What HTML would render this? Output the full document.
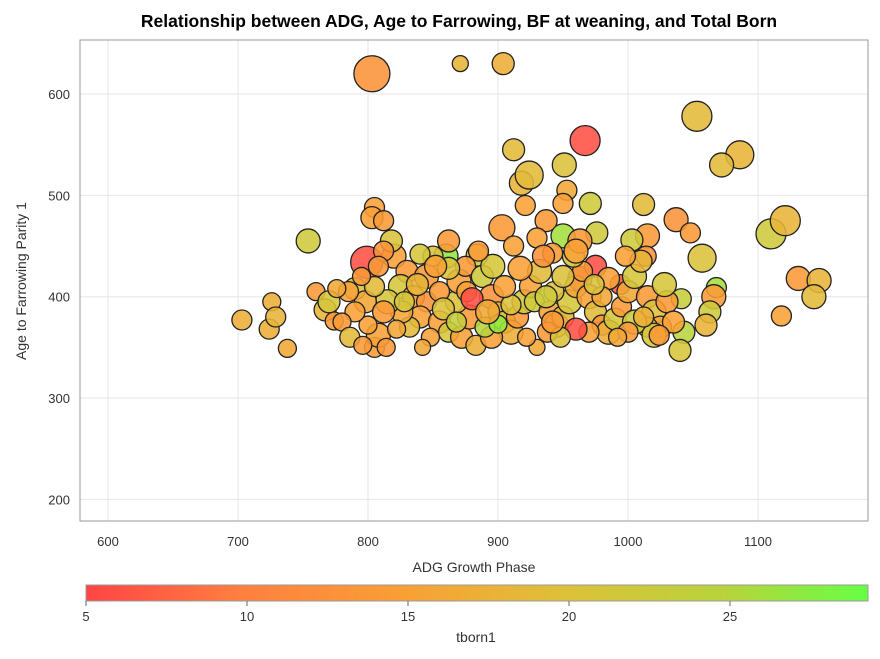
<!DOCTYPE html>
<html><head><meta charset="utf-8">
<style>
html,body{margin:0;padding:0;background:#fff;}
body{width:880px;height:654px;overflow:hidden;font-family:"Liberation Sans",Arial,sans-serif;}
</style></head>
<body>
<svg id="chart" width="880" height="654" xmlns="http://www.w3.org/2000/svg">
<defs>
<linearGradient id="cbar" x1="0" x2="1" y1="0" y2="0">
<stop offset="0" stop-color="#ff4444"/>
<stop offset="0.2" stop-color="#ff8040"/>
<stop offset="0.41" stop-color="#f9a035"/>
<stop offset="0.62" stop-color="#dcc23a"/>
<stop offset="0.82" stop-color="#b8d43c"/>
<stop offset="1" stop-color="#66ff44"/>
</linearGradient>
</defs>
<text x="459" y="27" text-anchor="middle" font-size="17.5" font-weight="bold" fill="#000">Relationship between ADG, Age to Farrowing, BF at weaning, and Total Born</text>
<g id="grid"></g>
<g id="bubbles"></g>
<rect x="80" y="40" width="788" height="481" fill="none" stroke="#999" stroke-width="1"/>
<g id="axes"></g>
<text x="474" y="572" text-anchor="middle" font-size="14" fill="#333">ADG Growth Phase</text>
<text transform="translate(26,281) rotate(-90)" text-anchor="middle" font-size="14" fill="#333">Age to Farrowing Parity 1</text>
<rect x="86" y="585" width="782" height="16" fill="url(#cbar)" stroke="#999" stroke-width="1"/>
<g id="cbticks"></g>
<text x="476" y="642" text-anchor="middle" font-size="14" fill="#333">tborn1</text>
</svg>
<script>
const xTicks=[600,700,800,900,1000,1100];
const yTicks=[200,300,400,500,600];
const cbTicks=[5,10,15,20,25];
const adg=[803,871,904,967,1053,1086,1072,912,951,953,918,924,971,950,805,1012,803,812,937,1037,921,1110,1121,754,799,976,1057,1048,1015,1003,1014,950,903,930,942,860,884,963,975,994,1131,1147,1143,1118,1068,1066,1063,1041,1043,1040,1060,760,703,724,726,729,738,767,774,790,805,808,814,800,
820,830,818,812,808,825,835,845,850,845,840,832,826,815,798,790,780,786,796,855,862,872,883,878,868,870,875,888,895,900,905,910,895,890,900,915,920,925,932,935,928,940,945,938,950,955,960,965,958,970,975,980,985,990,995,1000,1005,1010,998,1015,1020,1025,1015,1030,1028,1005,1000,992,970,960,948,930,922,910,905,896,885,876,862,855,858,848,842,838,828,812,822,805,795,785,770,776,880,917,943,963,985,1020,1035,892,937,980,960,950,912,862,840,852,868,942,974,1024,1012];
const age=[620,630,630,554,578,540,530,545,530,505,512,520,492,492,488,491,478,475,475,476,490,462,475,455,434,463,438,463,460,456,440,460,468,458,443,440,441,418,430,412,418,416,400,381,409,400,385,398,365,347,372,405,377,368,395,380,349,387,376,408,350,362,350,372,
440,425,455,445,430,410,400,420,440,395,380,370,385,395,395,385,375,360,352,375,365,360,352,380,395,415,430,420,400,385,375,365,360,370,373,380,395,410,425,440,395,385,372,365,380,395,410,425,440,400,385,372,365,378,390,405,420,435,440,400,385,370,370,395,412,375,365,360,365,368,360,350,360,392,410,430,445,405,428,405,388,360,350,412,395,385,368,410,420,405,395,408,398,428,405,455,418,362,375,385,400,400,445,420,450,455,442,430,375,375,412,362,380];
const bf=[18,8,11,15,15,14,12,11,12,10,12,14,11,10,10,11,11,10,11,12,10,15,15,12,16,11,14,10,12,11,10,12,13,10,10,12,11,12,11,10,12,12,12,10,10,12,11,10,11,11,11,9,10,10,9,10,9,11,9,11,10,12,9,9,
12,11,11,10,10,12,11,12,10,10,11,10,11,12,11,10,9,10,9,11,10,11,10,12,11,12,10,11,12,10,11,12,11,10,9,11,12,11,12,11,10,11,12,10,11,12,11,10,11,12,11,10,12,11,10,11,12,11,10,11,12,11,10,11,12,12,10,9,10,11,10,8,9,10,11,12,10,10,11,10,11,9,8,11,10,11,9,10,9,10,11,9,11,12,10,12,11,12,11,12,11,10,12,11,10,11,10,11,10,11,10,10,10];
const tborn=[13,18,17,6,19,18,19,19,20,16,18,19,22,15,15,19,15,14,14,13,15,22,18,22,6,22,20,14,14,22,13,26,14,15,14,27,22,7,6,7,14,18,19,15,26,14,22,23,25,21,18,14,17,17,17,18,16,18,14,20,14,15,14,15,
15,14,20,13,14,21,15,14,20,13,15,19,16,21,16,15,14,19,14,15,21,15,17,14,20,15,14,22,13,18,20,17,15,25,27,14,21,15,19,13,22,15,16,14,18,21,16,14,20,15,19,13,17,21,14,16,21,18,15,14,20,15,19,14,21,22,14,16,15,6,20,16,15,20,15,21,14,15,20,14,20,15,16,18,21,14,16,19,14,15,21,16,6,15,20,14,15,21,15,16,22,16,15,20,15,14,21,15,23,14,20,14,17];

const X=v=>108+(v-600)*1.3;
const Y=v=>94+(600-v)*1.0135;
const CB=v=>86+(v-5)*32.2;
const NS="http://www.w3.org/2000/svg";
const stops=[[5,[255,68,68]],[10,[255,128,64]],[15,[249,160,53]],[20,[220,194,58]],[25,[184,212,60]],[29.3,[102,255,68]]];
function col(t){
  for(let i=0;i<stops.length-1;i++){
    const a=stops[i],b=stops[i+1];
    if(t<=b[0]||i===stops.length-2){
      const f=Math.max(0,Math.min(1,(t-a[0])/(b[0]-a[0])));
      const c=a[1].map((v,k)=>Math.round(v+(b[1][k]-v)*f));
      return `rgb(${c[0]},${c[1]},${c[2]})`;
    }
  }
}
const grid=document.getElementById('grid'),axes=document.getElementById('axes');
xTicks.forEach(t=>{
  const l=document.createElementNS(NS,'line');
  
  
  l.setAttribute('x1',X(t));l.setAttribute('x2',X(t));l.setAttribute('y1',40);l.setAttribute('y2',521);
  l.setAttribute('stroke','#e6e6e6');grid.appendChild(l);
  const tx=document.createElementNS(NS,'text');
  
  
  tx.setAttribute('x',X(t));tx.setAttribute('y',546);tx.setAttribute('text-anchor','middle');
  tx.setAttribute('font-size','13');tx.setAttribute('fill','#333');tx.textContent=t;axes.appendChild(tx);
});
yTicks.forEach(t=>{
  const l=document.createElementNS(NS,'line');
  
  
  l.setAttribute('x1',80);l.setAttribute('x2',868);l.setAttribute('y1',Y(t));l.setAttribute('y2',Y(t));
  l.setAttribute('stroke','#e6e6e6');grid.appendChild(l);
  const tx=document.createElementNS(NS,'text');
  
  
  tx.setAttribute('x',70);tx.setAttribute('y',Y(t)+5);tx.setAttribute('text-anchor','end');
  tx.setAttribute('font-size','13');tx.setAttribute('fill','#333');tx.textContent=t;axes.appendChild(tx);
});
const bub=document.getElementById('bubbles');
for(let i=0;i<adg.length;i++){
  const c=document.createElementNS(NS,'circle');
  
  
  c.setAttribute('cx',X(adg[i]));c.setAttribute('cy',Y(age[i]));c.setAttribute('r',bf[i]);
  c.setAttribute('fill',col(tborn[i]));c.setAttribute('fill-opacity','0.88');
  c.setAttribute('stroke','#222');c.setAttribute('stroke-width','1.3');
  bub.appendChild(c);
}
const cbt=document.getElementById('cbticks');
cbTicks.forEach(t=>{
  const l=document.createElementNS(NS,'line');
  
  
  l.setAttribute('x1',CB(t));l.setAttribute('x2',CB(t));l.setAttribute('y1',601);l.setAttribute('y2',606);
  l.setAttribute('stroke','#666');cbt.appendChild(l);
  const tx=document.createElementNS(NS,'text');
  
  
  tx.setAttribute('x',CB(t));tx.setAttribute('y',621);tx.setAttribute('text-anchor','middle');
  tx.setAttribute('font-size','13');tx.setAttribute('fill','#333');tx.textContent=t;cbt.appendChild(tx);
});
</script>
</body></html>
